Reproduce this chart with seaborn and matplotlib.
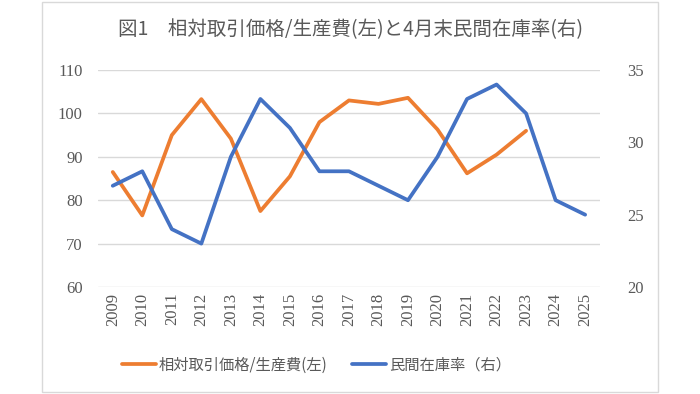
import numpy as np
import pandas as pd
import seaborn as sns
import matplotlib.pyplot as plt
from matplotlib.patches import Rectangle

years = [str(y) for y in range(2009, 2026)]
price_ratio = [86.5, 76.5, 95.0, 103.3, 94.2, 77.5, 85.5, 98.0, 103.0, 102.2, 103.6,
               96.3, 86.2, 90.5, 96.0, np.nan, np.nan]
stock_rate = [27, 28, 24, 23, 29, 33, 31, 28, 28, 27, 26, 29, 33, 34, 32, 26, 25]

title = "図1　相対取引価格/生産費(左)と4月末民間在庫率(右)"
label_left = "相対取引価格/生産費(左)"
label_right = "民間在庫率（右）"

ORANGE = "#ED7D31"
BLUE = "#4472C4"
GRAY_TXT = "#595959"
GRID = "#D9D9D9"

sns.set_theme(style="white")
plt.rcParams['font.family'] = ['Liberation Serif', 'Noto Sans CJK JP']

df = pd.DataFrame({"idx": range(len(years)), "year": years,
                   "price": price_ratio, "stock": stock_rate})

fig = plt.figure(figsize=(7, 3.94), dpi=100)
ax = fig.add_axes([0.14, 0.2716, 0.717, 0.5506])
ax2 = ax.twinx()

sns.lineplot(data=df, x="idx", y="price", ax=ax, color=ORANGE, linewidth=2.7,
             label=label_left, legend=False)
sns.lineplot(data=df, x="idx", y="stock", ax=ax2, color=BLUE, linewidth=2.7,
             label=label_right, legend=False)

ax.set_xlim(-0.5, len(years) - 0.5)
ax.set_ylim(60, 110)
ax.set_yticks(range(60, 111, 10))
ax2.set_ylim(20, 35)
ax2.set_yticks([20, 25, 30, 35])
ax.set_xticks(df["idx"])
ax.set_xticklabels(years, rotation=90)

ax.yaxis.grid(True, color=GRID, linewidth=1)
ax.set_axisbelow(True)
for a in (ax, ax2):
    for s in a.spines.values():
        s.set_visible(False)
    a.set_xlabel("")
    a.set_ylabel("")
ax.tick_params(axis="y", length=0, pad=11, labelsize=12, labelcolor=GRAY_TXT)
ax.tick_params(axis="x", length=0, pad=4, labelsize=12, labelcolor=GRAY_TXT)
ax2.tick_params(axis="y", length=0, pad=20, labelsize=12, labelcolor=GRAY_TXT)

fig.text(0.5, 0.924, title, ha="center", va="center", fontsize=14,
         color=GRAY_TXT, family=['Noto Sans CJK JP', 'DejaVu Sans'])

handles = ax.get_lines()[:1] + ax2.get_lines()[:1]
fig.legend(handles, [label_left, label_right], loc="center", ncol=2,
           bbox_to_anchor=(0.452, 0.074), frameon=False, handlelength=2.2,
           columnspacing=1.6, handletextpad=0.2,
           prop={"family": ['Noto Sans CJK JP', 'DejaVu Sans'], "size": 11},
           labelcolor=GRAY_TXT)

fig.patches.append(Rectangle((0.06, 0.005), 0.88, 0.99, transform=fig.transFigure,
                             fill=False, edgecolor=GRID, linewidth=1))

fig.savefig("out.png", dpi=100)
